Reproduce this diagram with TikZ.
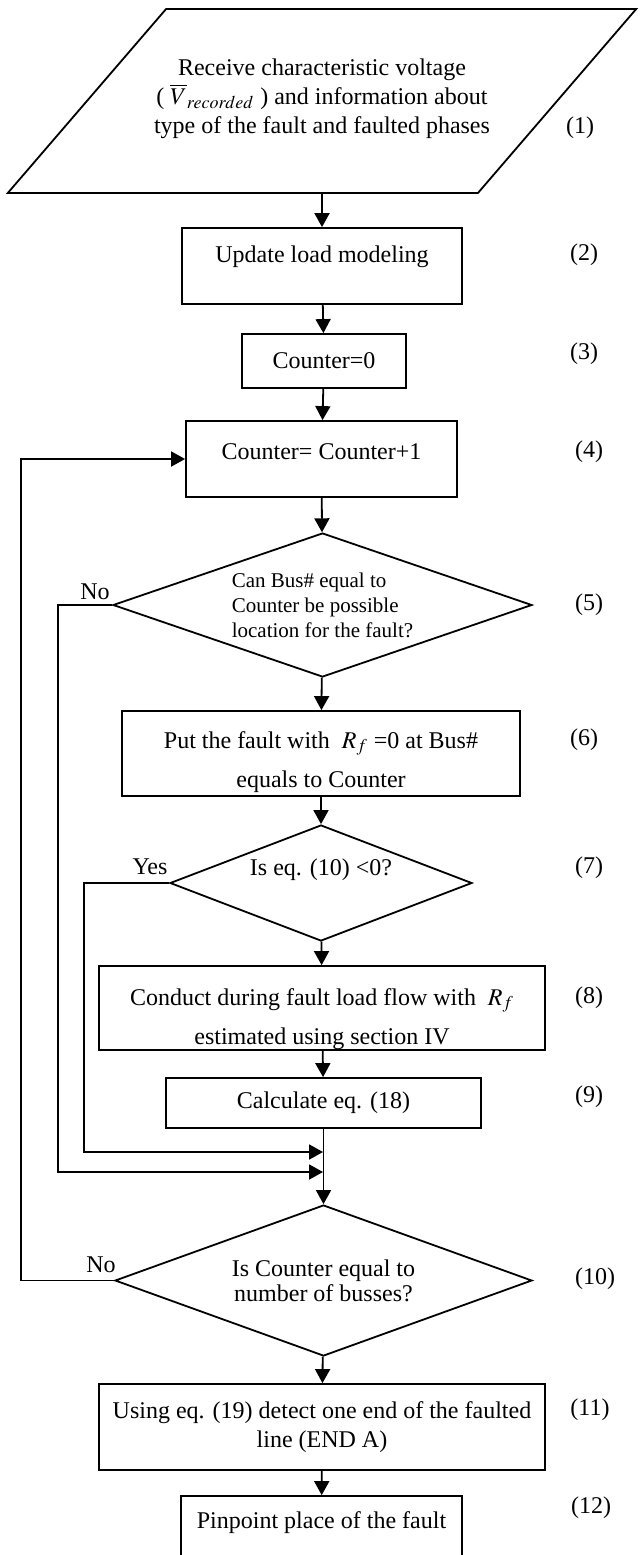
\documentclass[tikz,border=0pt]{standalone}
\usepackage{mathptmx}
\usepackage{fontspec}
\setmainfont{Liberation Serif}
\usetikzlibrary{arrows.meta,positioning,shapes.geometric}

\begin{document}
\begin{tikzpicture}[
  x=0.5pt, y=-0.5pt,
  every node/.style={font=\fontsize{12}{14.5}\selectfont, align=center},
  prl/.style={draw, trapezium, trapezium left angle=49.3, trapezium right angle=130.7,
              trapezium stretches body=true, minimum width=314pt,
              text height=35pt, text depth=3pt, inner ysep=27pt, inner xsep=-6pt,
              line width=0.9pt},
  blk/.style={draw, rectangle, inner xsep=2pt, line width=0.9pt},
  dec/.style={draw, diamond, inner sep=0pt, line width=0.9pt},
  lift/.style={text height=8.5pt, text depth=#1},
  num/.style={inner sep=0pt},
  arr/.style={-{Triangle[length=7pt,width=7.5pt]}, line width=0.9pt}
]
  \useasboundingbox (0,0) rectangle (639,1555);

  \node[prl] (recv) at (322,101) {Receive characteristic voltage\\
        ( $\overline{V}_{recorded}$ ) and information about\\
        type of the fault and faulted phases};
  \node[blk, minimum width=140pt, minimum height=38pt, lift=12pt] (upd) at (322,266)
        {Update load modeling};
  \node[blk, minimum width=82pt, minimum height=27pt] (cz) at (324,361) {Counter=0};
  \node[blk, minimum width=135.5pt, minimum height=38pt, lift=8.5pt] (cnt) at (321.5,459)
        {Counter= Counter+1};
  \node[dec, aspect=2.91, minimum width=209.5pt, minimum height=72pt, align=left,
        font=\fontsize{10.5}{12.5}\selectfont] (chk) at (322.5,605)
        {Can Bus\# equal to\\Counter be possible\\location for the fault?};
  \node[blk, minimum width=199pt, minimum height=42.5pt, inner ysep=1pt,
        text height=33.5pt, text depth=0pt] (put) at (321,753.5)
        {Put the fault with \ $R_f$ =0 at Bus\#\\[5pt] equals to Counter};
  \node[dec, aspect=2.6, minimum width=151pt, minimum height=58pt, lift=16.5pt]
        (neg) at (321,883) {Is eq. (10) <0?};
  \node[blk, minimum width=223pt, minimum height=42pt, inner ysep=1pt,
        text height=36pt, text depth=0pt] (flow) at (322,1008)
        {Conduct during fault load flow with \ $R_f$\\[5pt] estimated using section IV};
  \node[blk, minimum width=157.5pt, minimum height=25pt] (calc) at (323.5,1103)
        {Calculate eq. (18)};
  \node[dec, aspect=2.76, minimum width=208.5pt, minimum height=75.5pt,
        font=\fontsize{12}{12.5}\selectfont] (last) at (323.5,1280.5)
        {Is Counter equal to\\number of busses?};
  \node[blk, minimum width=223pt, minimum height=43pt] (enda) at (322,1427)
        {Using eq. (19) detect one end of the faulted\\line (END A)};
  \node[blk, minimum width=140.5pt, minimum height=38pt, lift=14pt] (pin) at (321.5,1534)
        {Pinpoint place of the fault};

  \coordinate (jn1) at (323,1152);
  \coordinate (jn2) at (323,1172);

  % main line
  \draw[arr] (recv) -- (upd);
  \draw[arr] (upd) -- (cz);
  \draw[arr] (cz) -- (cnt);
  \draw[arr] (cnt) -- (chk);
  \draw[arr] (chk) -- (put);
  \draw[arr] (put) -- (neg);
  \draw[arr] (neg) -- (flow);
  \draw[arr] (flow) -- (calc);
  \draw[arr] (calc) -- (last);
  \draw[arr] (last) -- (enda);
  \draw[arr] (enda) -- (pin);

  % branches
  \draw[arr] (chk.west) -- ++(-54,0) |- (jn2);
  \draw[arr] (neg.west) -- ++(-85,0) |- (jn1);
  \draw[arr] (last.west) -- ++(-93,0) |- (cnt.west);

  \node[num] (lno1) at (95,592) {No};
  \node[num] (lyes) at (150,867) {Yes};
  \node[num] (lno2) at (101,1265) {No};

  \node[num] (s1) at (580,128) {(1)};
  \node[num] (s2) at (584,255) {(2)};
  \node[num] (s3) at (584,354) {(3)};
  \node[num] (s4) at (589,452) {(4)};
  \node[num] (s5) at (589,605) {(5)};
  \node[num] (s6) at (584,740) {(6)};
  \node[num] (s7) at (589,868) {(7)};
  \node[num] (s8) at (589,998) {(8)};
  \node[num] (s9) at (589,1097) {(9)};
  \node[num] (s10) at (595,1279) {(10)};
  \node[num] (s11) at (590,1410) {(11)};
  \node[num] (s12) at (591,1508) {(12)};
\end{tikzpicture}
\end{document}
